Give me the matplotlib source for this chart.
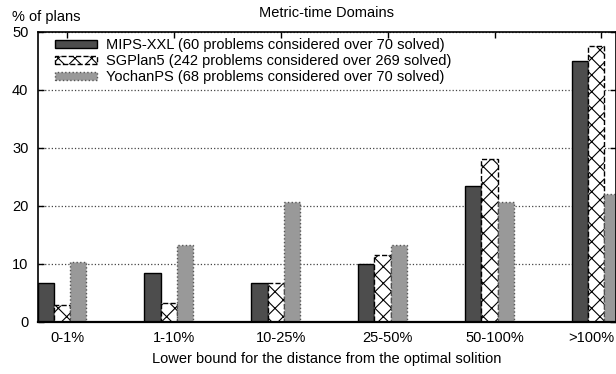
import matplotlib
matplotlib.use("Agg")
import matplotlib.pyplot as plt
import numpy as np

plt.rcParams['font.family'] = ['Liberation Sans', 'DejaVu Sans']
plt.rcParams['font.size'] = 10.5
plt.rcParams['hatch.linewidth'] = 0.8

# percentuali di piani per intervallo di distanza dall'ottimo
categories = ['0-1%', '1-10%', '10-25%', '25-50%', '50-100%', '>100%']
mips_xxl = [6.67, 8.33, 6.67, 10.0, 23.33, 45.0]
sgplan5 = [2.89, 3.31, 6.61, 11.57, 28.1, 47.52]
yochanps = [10.29, 13.24, 20.59, 13.24, 20.59, 22.06]

labels = ['MIPS-XXL (60 problems considered over 70 solved)',
          'SGPlan5 (242 problems considered over 269 solved)',
          'YochanPS (68 problems considered over 70 solved)']

fig = plt.figure(figsize=(6.16, 3.74), dpi=100)
ax = fig.add_axes([37.5 / 616, 1 - 321.7 / 374, 578 / 616, 290 / 374])

x = np.arange(len(categories))
w = 0.152
ax.bar(x - 0.200, mips_xxl, w, color='#4d4d4d', edgecolor='black',
       linewidth=1.0, label=labels[0], zorder=2)
ax.bar(x - 0.048, sgplan5, w, color='white', edgecolor='black', hatch='xx',
       linestyle='--', linewidth=1.0, label=labels[1], zorder=2)
ax.bar(x + 0.104, yochanps, w, color='#999999', edgecolor='#555555',
       linestyle=':', linewidth=1.0, label=labels[2], zorder=2)

ax.set_xlim(-0.276, 5.131)
ax.set_ylim(0, 50)
ax.set_xticks(x)
# l'ultima etichetta sta sul bordo destro: la scrivo a parte, spostata a sinistra
ax.set_xticklabels(categories[:-1] + [''])
ax.annotate(categories[-1], xy=(x[-1], 0), xycoords=('data', 'axes fraction'),
            xytext=(-7.3, -7), textcoords='offset points',
            ha='center', va='top', annotation_clip=False)
ax.set_yticks(range(0, 51, 10))

ax.yaxis.grid(True, linestyle=':', color='#444444', linewidth=0.9)
ax.set_axisbelow(True)
ax.tick_params(direction='in', top=True, right=True, length=4.5, width=1)
ax.tick_params(axis='x', pad=7)
ax.tick_params(axis='y', pad=6.5)
for sp in ax.spines.values():
    sp.set_linewidth(1.2)
ax.spines['bottom'].set_linewidth(1.6)

ax.legend(loc='upper left', bbox_to_anchor=(0.0303, 0.978), frameon=False,
          borderpad=0, borderaxespad=0, handlelength=2.85, handleheight=0.45,
          handletextpad=0.68, labelspacing=0.15)

ax.set_xlabel('Lower bound for the distance from the optimal solition', labelpad=5)
fig.text(326.5 / 616, 1 - 16.7 / 374, 'Metric-time Domains', ha='center', va='baseline')
fig.text(12 / 616, 1 - 21 / 374, '% of plans', ha='left', va='baseline')

fig.savefig('out.png', dpi=100)
